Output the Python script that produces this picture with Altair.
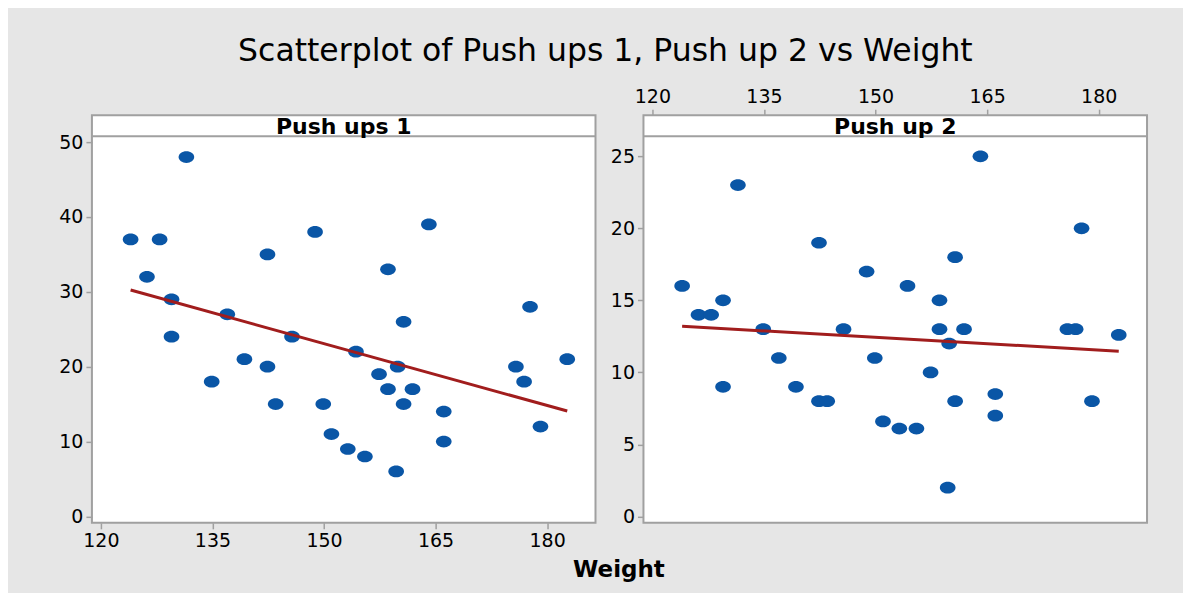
import altair as alt
import pandas as pd

# ---- data ----
weight = [124.0, 126.2, 127.9, 129.5, 129.5, 131.5, 134.9, 137.0, 139.3, 142.4,
          142.4, 143.5, 145.7, 148.8, 149.9, 151.0, 153.2, 154.3, 155.5, 157.4,
          158.6, 158.6, 159.7, 159.9, 160.7, 160.7, 161.9, 164.1, 166.1, 166.1,
          175.8, 176.9, 177.7, 179.1, 182.7]
push_ups_1 = [37, 32, 37, 29, 24, 48, 18, 27, 21, 35,
              20, 15, 24, 38, 15, 11, 9, 22, 8, 19,
              33, 17, 6, 20, 26, 15, 17, 39, 14, 10,
              20, 18, 28, 12, 21]
push_up_2 = [16, 14, 14, 15, 9, 23, 13, 11, 9, 19,
             8, 8, 13, 17, 11, 6.6, 6.1, 16, 6.1, 10,
             15, 13, 2, 12, 18, 8, 13, 25, 8.5, 7,
             13, 13, 20, 8, 12.6]
x_ticks = [120, 135, 150, 165, 180]
y_ticks_1 = [0, 10, 20, 30, 40, 50]
y_ticks_2 = [0, 5, 10, 15, 20, 25]

df = pd.DataFrame({"Weight": weight, "Push ups 1": push_ups_1, "Push up 2": push_up_2})

W, H, STRIP = 504, 408, 21
XDOM = [118.8, 186.5]
DOT = "#0a56a6"
LINE = "#a11d1d"
FRAME = "#a0a0a0"
BG = "#e6e6e6"
FONT = "DejaVu Sans"
SHAPE = "M -1 0 A 1 0.75 0 1 0 1 0 A 1 0.75 0 1 0 -1 0 Z"


def panel(col, ydom, yticks, xorient, with_title):
    axis_kw = dict(orient=xorient, values=x_ticks, format="d")
    if with_title:
        axis_kw.update(title="Weight", titleX=527, titleY=54, titleAlign="center",
                       titleBaseline="alphabetic", titleFont=FONT, titleFontSize=23,
                       titleFontWeight="bold", titleColor="black")
    else:
        axis_kw.update(title=None)
    x = alt.X("Weight:Q", scale=alt.Scale(domain=XDOM, nice=False, zero=False),
              axis=alt.Axis(**axis_kw))
    y = alt.Y(f"{col}:Q",
              scale=alt.Scale(domain=ydom, range=[H, STRIP], nice=False, zero=False),
              axis=alt.Axis(values=yticks, title=None, format="d"))
    base = alt.Chart(df)
    pts = base.mark_point(shape=SHAPE, filled=True, size=245, color=DOT, opacity=1,
                          strokeWidth=0).encode(x=x, y=y)
    reg = base.transform_regression("Weight", col).mark_line(
        color=LINE, strokeWidth=3).encode(x=x, y=y)
    one = pd.DataFrame({"label": [col]})
    rule = alt.Chart(one).mark_rule(color=FRAME, strokeWidth=2).encode(
        x=alt.value(0), x2=alt.value(W), y=alt.value(STRIP))
    txt = alt.Chart(one).mark_text(font=FONT, fontSize=22, fontWeight="bold",
                                   color="black", baseline="middle", align="center").encode(
        x=alt.value(W / 2), y=alt.value(STRIP / 2 + 1), text="label:N")
    return alt.layer(pts, reg, rule, txt).properties(width=W, height=H)


left = panel("Push ups 1", [-0.86, 50.8], y_ticks_1, "bottom", True)
right = panel("Push up 2", [-0.44, 26.4], y_ticks_2, "top", False)

chart = alt.hconcat(left, right, spacing=48, bounds="flush").properties(
    title=alt.TitleParams("Scatterplot of Push ups 1, Push up 2 vs Weight",
                          font=FONT, fontSize=31.5, fontWeight="normal", color="black",
                          anchor="middle", offset=19, dx=2),
    padding={"left": 49, "right": 34, "top": 27, "bottom": 10},
    background=BG,
).configure_view(
    stroke=FRAME, strokeWidth=2, fill="white"
).configure_axis(
    grid=False, domain=False, labelFont=FONT, labelFontSize=19, labelColor="black",
    tickColor=FRAME, tickSize=6, tickWidth=1.5, labelPadding=3
)

chart.save("out.html", embed_options={"renderer": "svg", "actions": False})
